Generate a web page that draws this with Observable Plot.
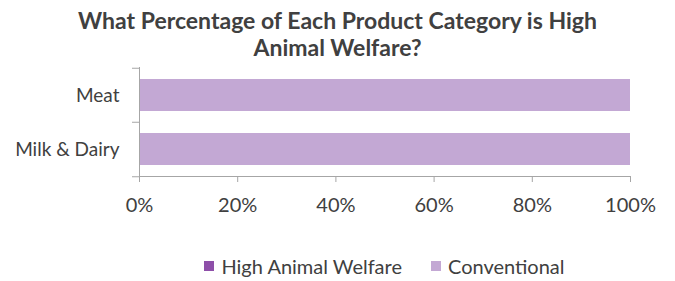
<!DOCTYPE html>
<html>
<head>
<meta charset="utf-8">
<script src="https://cdn.jsdelivr.net/npm/d3@7"></script>
<script src="https://cdn.jsdelivr.net/npm/@observablehq/plot@0.6"></script>
<style>
  body { margin: 0; background: #fff; width: 675px; height: 281px; overflow: hidden; font-family: Lato, "Open Sans", sans-serif; }
  #title { height: 62px; box-sizing: border-box; padding-top: 7px; text-align: center; font-weight: 700; font-size: 23px; line-height: 27px; color: #404040; }
  #legend { margin-left: 139px; width: 491px; height: 51px; box-sizing: border-box; padding-top: 21px; display: flex; justify-content: center; align-items: center; font-size: 20px; line-height: 24px; color: #404040; }
  .item { display: flex; align-items: center; }
  .item + .item { margin-left: 29px; }
  .sw { width: 10px; height: 10px; margin-right: 7px; }
  svg { display: block; }
</style>
</head>
<body>
<div id="title">What Percentage of Each Product Category is High<br>Animal Welfare?</div>
<div id="chart"></div>
<div id="legend"></div>
<script>
const categories = ["Meat", "Milk & Dairy"];
const series = ["High Animal Welfare", "Conventional"];
const highWelfare = [0, 0];
const conventional = [100, 100];
const xTicks = [0, 20, 40, 60, 80, 100];
const colors = ["#8e4fa9", "#c3a8d4"];

const data = [];
categories.forEach((c, i) => {
  data.push({category: c, series: series[0], value: highWelfare[i]});
  data.push({category: c, series: series[1], value: conventional[i]});
});

const axisGray = "#a6a6a6";
const textGray = "#404040";
const height = 168, marginTop = 5, marginBottom = 54;
const step = (height - marginTop - marginBottom) / categories.length;

const chart = Plot.plot({
  width: 675,
  height,
  marginLeft: 139,
  marginRight: 45,
  marginTop,
  marginBottom,
  style: {fontFamily: "Lato, 'Open Sans', sans-serif", fontSize: "20px", color: textGray, background: "#fff"},
  x: {domain: [0, 100], label: null},
  y: {domain: categories, paddingInner: 0.41, paddingOuter: 0.205, label: null},
  color: {domain: series, range: colors},
  marks: [
    Plot.barX(data, Plot.stackX({y: "category", x: "value", fill: "series", order: series})),
    Plot.frame({anchor: "left", stroke: axisGray}),
    Plot.frame({anchor: "bottom", stroke: axisGray}),
    Plot.ruleY(categories, {y: d => d, x1: 0, x2: -7 * 100 / 491, dy: -step / 2, stroke: axisGray}),
    Plot.ruleY(categories.slice(-1), {y: d => d, x1: 0, x2: -7 * 100 / 491, dy: step / 2, stroke: axisGray}),
    Plot.axisY({tickSize: 0, tickPadding: 20, fill: textGray, fontSize: 19}),
    Plot.axisX({ticks: xTicks, tickFormat: d => d + "%", tickSize: 6, tickPadding: 15, stroke: axisGray, fill: textGray, fontSize: 20})
  ]
});
document.getElementById("chart").append(chart);

const legend = document.getElementById("legend");
series.forEach((s, i) => {
  const item = document.createElement("div");
  item.className = "item";
  const sw = document.createElement("div");
  sw.className = "sw";
  sw.style.background = colors[i];
  const label = document.createElement("span");
  label.textContent = s;
  item.append(sw, label);
  legend.append(item);
});
</script>
</body>
</html>
